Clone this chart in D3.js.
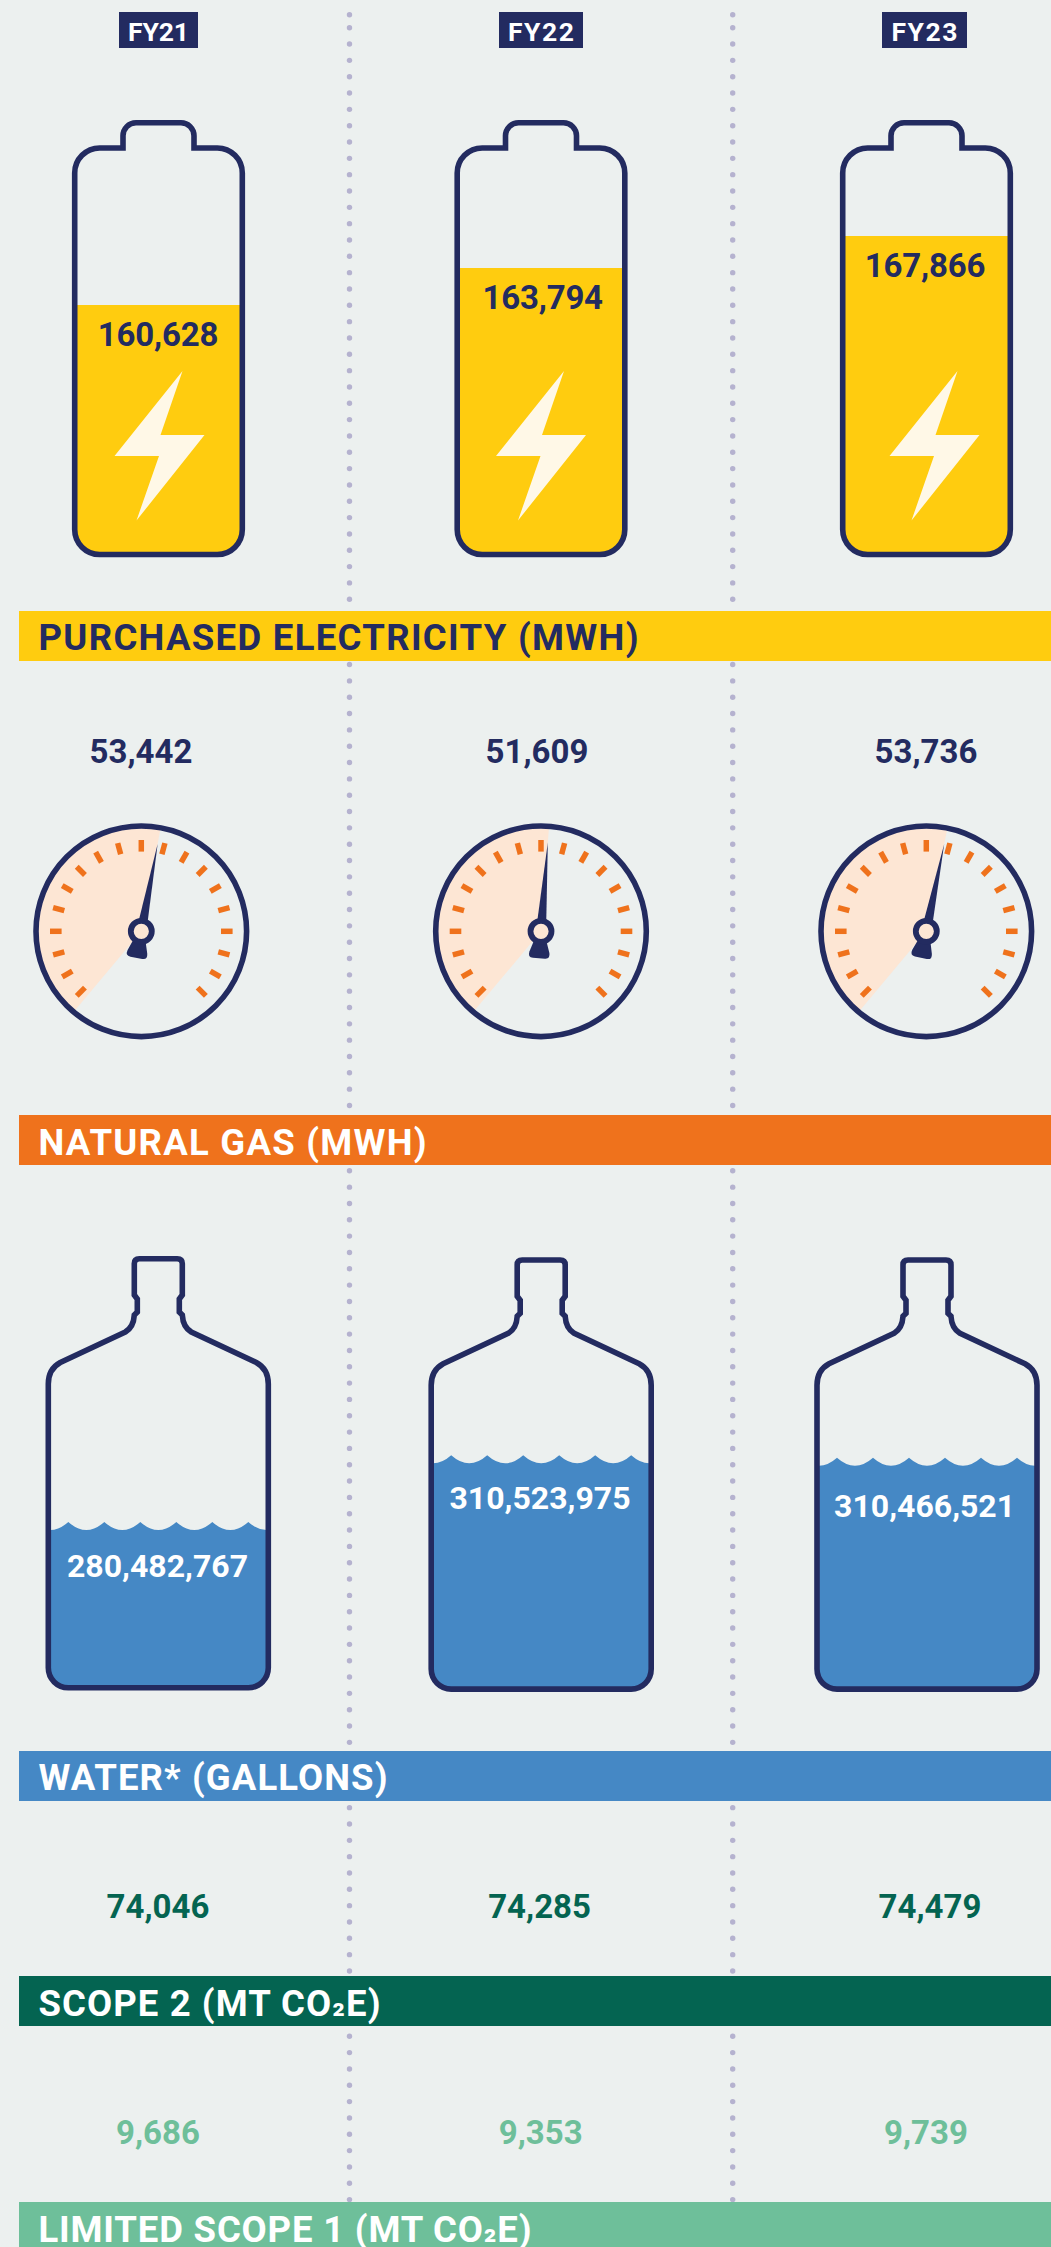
<!DOCTYPE html>
<html>
<head>
<meta charset="utf-8">
<script src="https://cdn.jsdelivr.net/npm/d3@7"></script>
<style>
  html, body { margin: 0; padding: 0; background: #ecf0ef; }
  svg { display: block; }
  text { font-family: Roboto, sans-serif; }
</style>
</head>
<body>
<div id="grafico"></div>
<script>
/* Values */
const years = ['FY21', 'FY22', 'FY23'];
const electricity = [160628, 163794, 167866];
const naturalGas = [53442, 51609, 53736];
const water = [280482767, 310523975, 310466521];
const scope2 = [74046, 74285, 74479];
const limitedScope1 = [9686, 9353, 9739];
const bannerLabels = [
  'PURCHASED ELECTRICITY (MWH)',
  'NATURAL GAS (MWH)',
  'WATER* (GALLONS)',
  'SCOPE 2 (MT CO₂E)',
  'LIMITED SCOPE 1 (MT CO₂E)'
];

/* Colours */
const navy = '#232b60';
const yellow = '#ffcc0f';
const orange = '#ef721c';
const blue = '#4588c5';
const darkGreen = '#046451';
const lightGreen = '#6ebf9a';
const peach = '#fde6d4';
const dotColor = '#b5b2cf';

/* Canvas */
const w = 1051;
const h = 2247;
const svg = d3.select('#grafico').append('svg').attr('width', w).attr('height', h);
svg.append('rect').attr('width', w).attr('height', h).attr('fill', '#ecf0ef');

const fmt = d3.format(',');

/* Dotted dividers, banners are painted over them later */
const dotYs = [14.8].concat(d3.range(0, 134).map(n => 27.7 + n * 16.33));
[349.5, 732.7].forEach(x => {
  svg.append('g').selectAll('circle').data(dotYs).join('circle')
    .attr('cx', x).attr('cy', d => d).attr('r', 2.7).attr('fill', dotColor);
});

/* Year tags */
const tagBox = [[119, 79], [499, 84], [882, 85]];
const tagTextW = [61, 66, 66];
const tags = svg.append('g').selectAll('g').data(years).join('g');
tags.append('rect')
  .attr('x', (d, i) => tagBox[i][0]).attr('y', 12)
  .attr('width', (d, i) => tagBox[i][1]).attr('height', 36)
  .attr('fill', navy);
tags.append('text')
  .attr('x', (d, i) => tagBox[i][0] + tagBox[i][1] / 2).attr('y', 40.5)
  .attr('text-anchor', 'middle').attr('fill', '#fff')
  .attr('font-size', 26.5).attr('font-weight', 700)
  .attr('textLength', (d, i) => tagTextW[i])
  .text(d => d);

/* Batteries */
const batteryX = [158.5, 541, 926.5];
const boltX = [159.5, 541, 934.5];
const batteryLabelX = [158, 542.7, 925];
const batteryY = d3.scaleLinear().domain(electricity).range([305, 268, 236]);
const boltPoints = [[23, 371], [-45, 456], [-0.5, 456], [-23, 520.5], [45, 435], [1, 435]];

const batteryPath = (cx) => {
  const p = d3.path();
  const top = 148, bottom = 554.5, hw = 83.8, capW = 35.5, capTop = 122.8;
  p.moveTo(cx - capW, top);
  p.lineTo(cx - capW, capTop + 13);
  p.arcTo(cx - capW, capTop, cx - capW + 13, capTop, 13);
  p.lineTo(cx + capW - 13, capTop);
  p.arcTo(cx + capW, capTop, cx + capW, capTop + 13, 13);
  p.lineTo(cx + capW, top);
  p.lineTo(cx + hw - 25, top);
  p.arcTo(cx + hw, top, cx + hw, top + 25, 25);
  p.lineTo(cx + hw, bottom - 25);
  p.arcTo(cx + hw, bottom, cx + hw - 25, bottom, 25);
  p.lineTo(cx - hw + 25, bottom);
  p.arcTo(cx - hw, bottom, cx - hw, bottom - 25, 25);
  p.lineTo(cx - hw, top + 25);
  p.arcTo(cx - hw, top, cx - hw + 25, top, 25);
  p.closePath();
  return p.toString();
};

const defs = svg.append('defs');
const batteries = svg.append('g').selectAll('g').data(electricity).join('g');
defs.selectAll('.clip-battery').data(electricity).join('clipPath')
  .attr('class', 'clip-battery').attr('id', (d, i) => `clip-battery-${i}`)
  .append('path').attr('d', (d, i) => batteryPath(batteryX[i]));
batteries.append('rect')
  .attr('x', (d, i) => batteryX[i] - 90).attr('width', 180)
  .attr('y', d => batteryY(d)).attr('height', d => 560 - batteryY(d))
  .attr('fill', yellow)
  .attr('clip-path', (d, i) => `url(#clip-battery-${i})`);
batteries.append('path')
  .attr('d', (d, i) => batteryPath(batteryX[i]))
  .attr('fill', 'none').attr('stroke', navy).attr('stroke-width', 5.6);
batteries.append('path')
  .attr('d', (d, i) => d3.line()(boltPoints.map(b => [boltX[i] + b[0], b[1]])) + 'Z')
  .attr('fill', '#fff8e7');
batteries.append('text')
  .attr('x', (d, i) => batteryLabelX[i]).attr('y', d => batteryY(d) + 41)
  .attr('text-anchor', 'middle').attr('fill', navy)
  .attr('font-size', 33).attr('font-weight', 700).attr('letter-spacing', -0.2)
  .text(d => fmt(d));

/* Gauges */
const gaugeX = [141.3, 541, 926.3];
const gaugeY = 931.3;
const gaugeLabelX = [141, 537, 926];
const gaugeAngle = d3.scaleLinear().domain([51609, 53736]).range([4.4, 11.6]);
const rad = d3.scaleLinear().domain([0, 180]).range([0, Math.PI]);
const tickAngles = d3.range(-135, 136, 15);

const gauges = svg.append('g').selectAll('g').data(naturalGas).join('g')
  .attr('transform', (d, i) => `translate(${gaugeX[i]},${gaugeY})`);
gauges.append('path')
  .attr('d', d => d3.arc()({ innerRadius: 0, outerRadius: 105, startAngle: rad(-140), endAngle: rad(gaugeAngle(d)) }))
  .attr('fill', peach);
gauges.append('g').selectAll('line').data(tickAngles).join('line')
  .attr('y1', -79.7).attr('y2', -91.3)
  .attr('transform', a => `rotate(${a})`)
  .attr('stroke', orange).attr('stroke-width', 5.5);
gauges.append('circle')
  .attr('r', 105.3).attr('fill', 'none').attr('stroke', navy).attr('stroke-width', 5.6);
const needles = gauges.append('g')
  .attr('transform', d => `rotate(${gaugeAngle(d)})`);
needles.append('path').attr('d', 'M-4.5,-10 L0,-89 L4.5,-10 Z').attr('fill', navy);
needles.append('path')
  .attr('d', 'M-6,9 L-10,21 Q-11.5,27 -6,27 L6,27 Q11.5,27 10,21 L6,9 Z')
  .attr('fill', navy);
gauges.append('circle')
  .attr('r', 10.5).attr('fill', peach).attr('stroke', navy).attr('stroke-width', 5.8);
svg.append('g').selectAll('text').data(naturalGas).join('text')
  .attr('x', (d, i) => gaugeLabelX[i]).attr('y', 762.7)
  .attr('text-anchor', 'middle').attr('fill', navy)
  .attr('font-size', 33).attr('font-weight', 700)
  .text(d => fmt(d));

/* Water jugs */
const jugX = [158.3, 541.2, 927];
const jugTop = [1256, 1257.3, 1257.3];
const jugLabelX = [157.5, 540, 924.6];
const jugLabelGap = [47, 45.4, 51.6];
const waterY = d3.scaleLinear()
  .domain([280482767, 310466521, 310523975])
  .range([1530, 1465.7, 1463.3]);
const crests = d3.range(-126, 127, 36);

const jugPath = (cx, top) => {
  const p = d3.path();
  const X = dx => cx + dx;
  const Y = dy => top + dy;
  p.moveTo(X(-19), Y(2.7));
  p.lineTo(X(19), Y(2.7));
  p.quadraticCurveTo(X(24), Y(2.7), X(24), Y(7.5));
  p.lineTo(X(24), Y(39));
  p.lineTo(X(21), Y(43));
  p.lineTo(X(21), Y(56));
  p.lineTo(X(24), Y(59));
  p.bezierCurveTo(X(24.5), Y(68), X(28), Y(73), X(33), Y(76));
  p.lineTo(X(98), Y(106.5));
  p.quadraticCurveTo(X(110), Y(113), X(110), Y(128));
  p.lineTo(X(110), Y(412));
  p.arcTo(X(110), Y(431.8), X(90), Y(431.8), 20);
  p.lineTo(X(-90), Y(431.8));
  p.arcTo(X(-110), Y(431.8), X(-110), Y(412), 20);
  p.lineTo(X(-110), Y(128));
  p.quadraticCurveTo(X(-110), Y(113), X(-98), Y(106.5));
  p.lineTo(X(-33), Y(76));
  p.bezierCurveTo(X(-28), Y(73), X(-24.5), Y(68), X(-24), Y(59));
  p.lineTo(X(-21), Y(56));
  p.lineTo(X(-21), Y(43));
  p.lineTo(X(-24), Y(39));
  p.lineTo(X(-24), Y(7.5));
  p.quadraticCurveTo(X(-24), Y(2.7), X(-19), Y(2.7));
  p.closePath();
  return p.toString();
};

/* Scalloped water surface, cusps 8px over the trough level */
const waterPath = (cx, level) => {
  const p = d3.path();
  p.moveTo(cx + crests[0], level - 8);
  crests.slice(1).forEach(c => {
    p.quadraticCurveTo(cx + c - 18, level + 8, cx + c, level - 8);
  });
  p.lineTo(cx + 130, 1700);
  p.lineTo(cx - 130, 1700);
  p.closePath();
  return p.toString();
};

defs.selectAll('.clip-jug').data(water).join('clipPath')
  .attr('class', 'clip-jug').attr('id', (d, i) => `clip-jug-${i}`)
  .append('path').attr('d', (d, i) => jugPath(jugX[i], jugTop[i]));
const jugs = svg.append('g').selectAll('g').data(water).join('g');
jugs.append('path')
  .attr('d', (d, i) => waterPath(jugX[i], waterY(d)))
  .attr('fill', blue)
  .attr('clip-path', (d, i) => `url(#clip-jug-${i})`);
jugs.append('path')
  .attr('d', (d, i) => jugPath(jugX[i], jugTop[i]))
  .attr('fill', 'none').attr('stroke', navy).attr('stroke-width', 5.6);
jugs.append('text')
  .attr('x', (d, i) => jugLabelX[i]).attr('y', (d, i) => waterY(d) + jugLabelGap[i])
  .attr('text-anchor', 'middle').attr('fill', '#fff')
  .attr('font-size', 32).attr('font-weight', 700)
  .text(d => fmt(d));

/* Plain number rows */
const plainRows = [
  { values: scope2, y: 1918.3, color: darkGreen, xs: [158, 539.6, 930] },
  { values: limitedScope1, y: 2144, color: lightGreen, xs: [158, 540.7, 926] }
];
plainRows.forEach(row => {
  svg.append('g').selectAll('text').data(row.values).join('text')
    .attr('x', (d, i) => row.xs[i]).attr('y', row.y)
    .attr('text-anchor', 'middle').attr('fill', row.color)
    .attr('font-size', 33).attr('font-weight', 700)
    .text(d => fmt(d));
});

/* Banners */
const bannerTop = [611, 1115, 1751, 1976, 2202];
const bannerColors = [yellow, orange, blue, darkGreen, lightGreen];
const bannerTextColors = [navy, '#fff', '#fff', '#fff', '#fff'];
const bannerBase = [649.5, 1155, 1790, 2016, 2242];
const bannerTextW = [600, 388, 349, 342, 493];
const banners = svg.append('g').selectAll('g').data(bannerLabels).join('g');
banners.append('rect')
  .attr('x', 19).attr('y', (d, i) => bannerTop[i])
  .attr('width', w - 19).attr('height', 50)
  .attr('fill', (d, i) => bannerColors[i]);
banners.append('text')
  .attr('x', 38.5).attr('y', (d, i) => bannerBase[i])
  .attr('fill', (d, i) => bannerTextColors[i])
  .attr('font-size', 36.5).attr('font-weight', 700)
  .each(function (d) {
    /* the subscript 2 sits on the baseline in the original, Roboto drops it */
    const t = d3.select(this);
    const parts = d.split('₂');
    t.append('tspan').text(parts[0]);
    if (parts.length > 1) {
      t.append('tspan').attr('dy', -6).attr('font-size', 34).text('₂');
      t.append('tspan').attr('dy', 6).text(parts[1]);
    }
  })
  .each(function (d, i) {
    /* spread letters until the label is as wide as in the original */
    const n = this.getNumberOfChars();
    const gap = (bannerTextW[i] - this.getComputedTextLength()) / (n - 1);
    d3.select(this).style('letter-spacing', `${gap}px`);
  });
</script>
</body>
</html>
